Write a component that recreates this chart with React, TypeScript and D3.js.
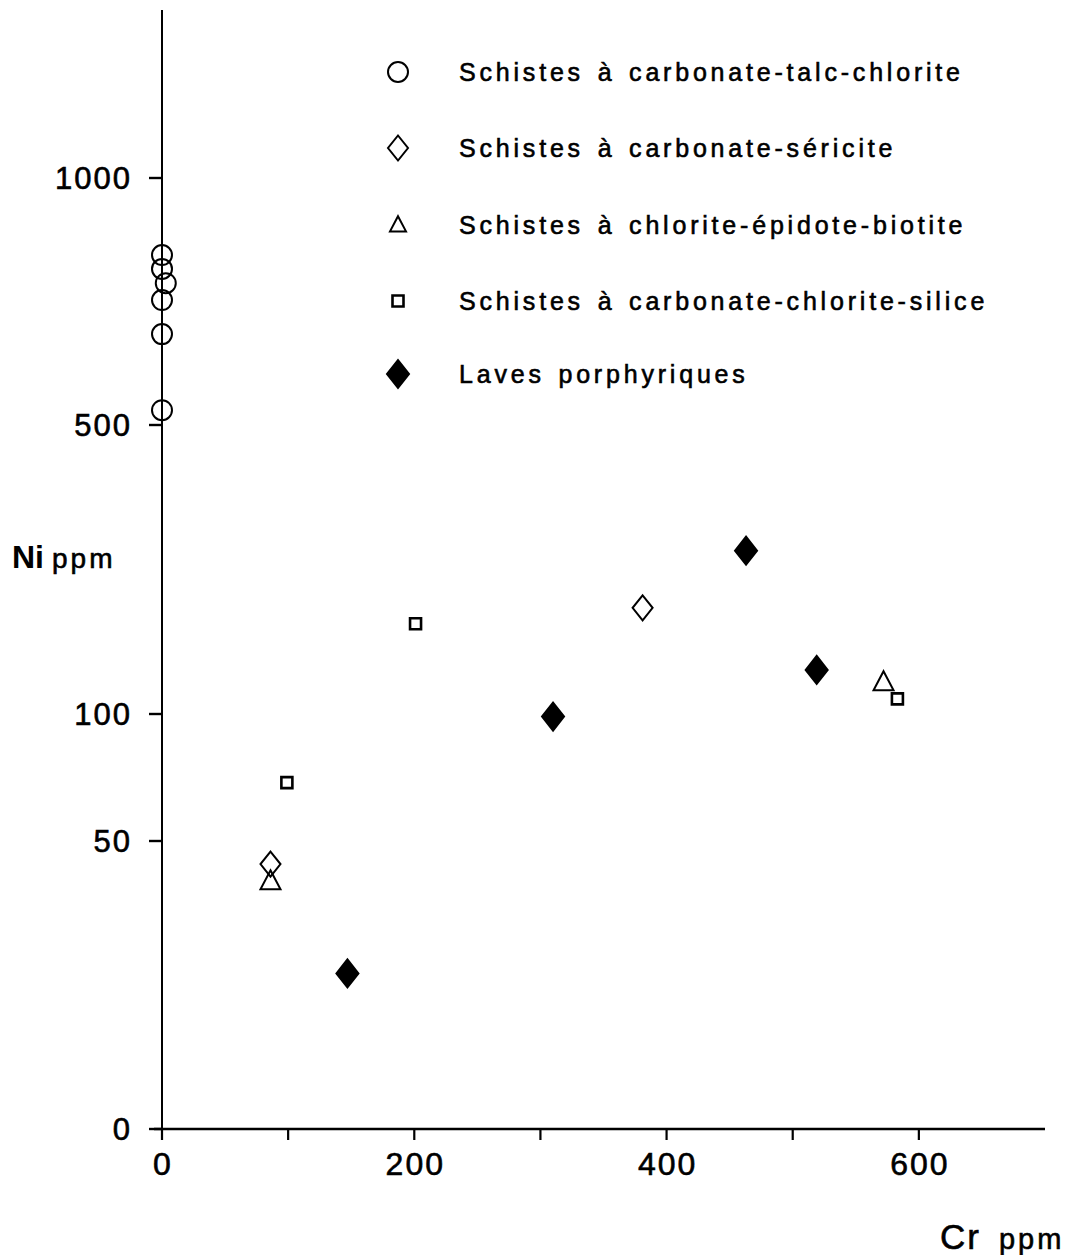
import * as d3 from "d3";

// Cr ppm (x) vs Ni ppm (y)
const talcCr = [0, 0, 3, 0, 0, 0];
const talcNi = [844, 816, 787, 753, 684, 530];

const sericiteCr = [86, 381];
const sericiteNi = [46, 247];

const epidoteCr = [86, 572];
const epidoteNi = [43, 144];

const siliceCr = [99, 201, 583];
const siliceNi = [73, 225, 121];

const lavesCr = [147, 310, 463, 519];
const lavesNi = [27, 99, 326, 161];

const xTicks = [0, 200, 400, 600];
const xMinorTicks = [100, 300, 500];
const yTicks = [0, 50, 100, 500, 1000];

const legendLabels = [
  "Schistes à carbonate-talc-chlorite",
  "Schistes à carbonate-séricite",
  "Schistes à chlorite-épidote-biotite",
  "Schistes à carbonate-chlorite-silice",
  "Laves porphyriques",
];
const legendShapes = ["circle", "diamond", "triangle", "square", "filledDiamond"];

const W = 1081;
const H = 1255;
const font = "'Liberation Sans', Arial, sans-serif";

// the Ni axis of the original is drawn by hand, not a true log: piecewise
const x = d3.scaleLinear([0, 700], [162, 1045]);
const y = d3.scaleLinear([0, 50, 100, 500, 1000, 1340], [1129, 841, 714, 425, 178, 10]);

function markerPath(shape: string, s = 1) {
  const p = d3.path();
  if (shape === "diamond" || shape === "filledDiamond") {
    const w = (shape === "filledDiamond" ? 11 : 10) * s, h = (shape === "filledDiamond" ? 14 : 12.5) * s;
    p.moveTo(0, -h); p.lineTo(w, 0); p.lineTo(0, h); p.lineTo(-w, 0); p.closePath();
  } else if (shape === "triangle") {
    const w = 10 * s;
    p.moveTo(0, -11 * s); p.lineTo(w, 8 * s); p.lineTo(-w, 8 * s); p.closePath();
  } else if (shape === "square") {
    const a = 5.5 * s;
    p.rect(-a, -a, 2 * a, 2 * a);
  } else {
    p.arc(0, 0, 10 * s, 0, 2 * Math.PI);
  }
  return p.toString();
}

function Marker({ shape, cx, cy, s = 1 }: { shape: string; cx: number; cy: number; s?: number }) {
  const filled = shape === "filledDiamond";
  return (
    <path
      d={markerPath(shape, s)}
      transform={`translate(${cx},${cy})`}
      fill={filled ? "#000" : "none"}
      stroke="#000"
      strokeWidth={shape === "square" ? 2.6 : 2}
    />
  );
}

export default function App() {
  const series = [
    { shape: "circle", cr: talcCr, ni: talcNi },
    { shape: "diamond", cr: sericiteCr, ni: sericiteNi },
    { shape: "triangle", cr: epidoteCr, ni: epidoteNi },
    { shape: "square", cr: siliceCr, ni: siliceNi },
    { shape: "filledDiamond", cr: lavesCr, ni: lavesNi },
  ];
  const legendY = [72, 148, 225, 301, 374];
  const ink = { stroke: "#000", strokeWidth: 0.6 };

  return (
    <svg width={W} height={H} style={{ position: "absolute", left: 0, top: 0, background: "#fff" }} fontFamily={font}>
      {/* axes */}
      <line x1={x(0)} x2={x(0)} y1={y(1340)} y2={y(0) + 11} stroke="#000" strokeWidth={2} />
      <line x1={x(0) - 8} x2={x(700)} y1={y(0)} y2={y(0)} stroke="#000" strokeWidth={2.4} />
      {yTicks.map((t) => (
        <g key={"y" + t}>
          <line x1={x(0) - 13} x2={x(0)} y1={y(t)} y2={y(t)} stroke="#000" strokeWidth={2.4} />
          <text x={x(0) - 30} y={y(t)} dy="0.36em" textAnchor="end" fontSize={31} letterSpacing={2} {...ink}>{t}</text>
        </g>
      ))}
      {xTicks.concat(xMinorTicks).map((t) => (
        <line key={"xt" + t} x1={x(t)} x2={x(t)} y1={y(0)} y2={y(0) + 11} stroke="#000" strokeWidth={2.2} />
      ))}
      {xTicks.map((t) => (
        <text key={"xl" + t} x={x(t) + 1} y={y(0) + 46} textAnchor="middle" fontSize={32} letterSpacing={2} {...ink}>{t}</text>
      ))}

      <text x={12} y={568} fontSize={32} fontWeight="bold">Ni<tspan dx={8} fontSize={28} fontWeight="normal" letterSpacing={3} {...ink}>ppm</tspan></text>
      <text x={940} y={1249} fontSize={35} letterSpacing={2} {...ink}>Cr<tspan fontSize={29} dx={18} letterSpacing={3}>ppm</tspan></text>

      {/* points */}
      {series.map((sr) =>
        sr.cr.map((c, i) => (
          <Marker key={sr.shape + i} shape={sr.shape} cx={x(c)} cy={y(sr.ni[i])} />
        ))
      )}

      {/* legend */}
      {legendLabels.map((l, i) => (
        <g key={"lg" + i}>
          <Marker shape={legendShapes[i]} cx={398} cy={legendY[i]} s={legendShapes[i] === "triangle" ? 0.8 : 1} />
          <text x={459} y={legendY[i]} dy="0.36em" fontSize={25} letterSpacing={3.8} wordSpacing={3} {...ink}>{l}</text>
        </g>
      ))}
    </svg>
  );
}
